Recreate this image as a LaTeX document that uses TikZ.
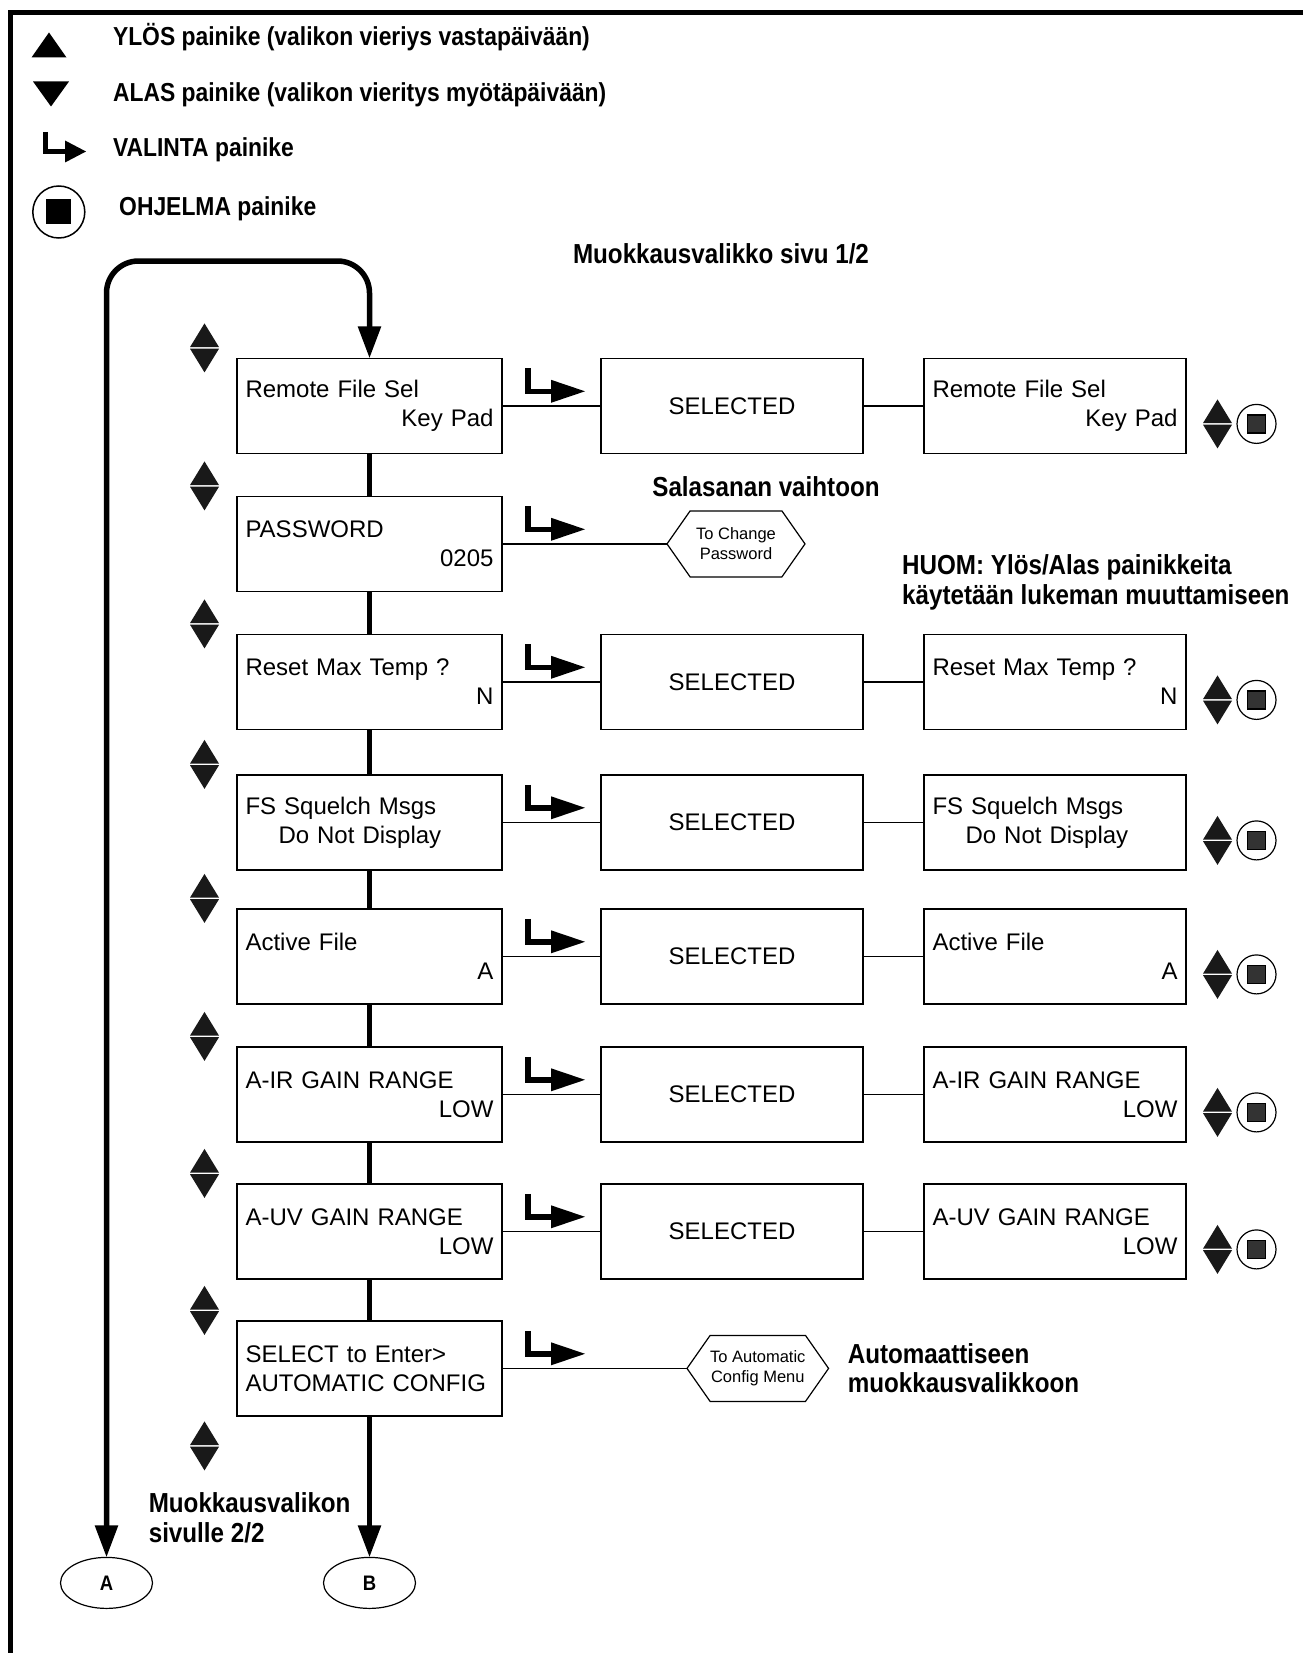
\documentclass[tikz,border=0pt]{standalone}
\usepackage{fontspec}
\setmainfont{Liberation Sans}
\newfontfamily\notefont[FakeStretch=0.88]{Liberation Sans}
\usetikzlibrary{arrows.meta,positioning,shapes.geometric,shapes.symbols,calc}
\newcommand{\boxfont}{\fontsize{24}{29}\selectfont}
\newcommand{\notesize}{\notefont\bfseries\fontsize{27.5}{29.5}\selectfont}
\newcommand{\legsize}{\notefont\bfseries\fontsize{26}{29}\selectfont}

\begin{document}
\begin{tikzpicture}[
  x=1pt, y=-1pt,
  >={Triangle[length=32pt,width=22pt]},
  menu/.style={draw, line width=1.5pt, outer sep=0pt, minimum width=265pt, minimum height=95pt,
    text width=248pt, inner xsep=8.5pt, align=left, font=\boxfont},
  result/.style={menu, minimum width=262pt, text width=245pt},
  sel/.style={draw, line width=1.5pt, outer sep=0pt, minimum width=262pt, minimum height=95pt, font=\boxfont},
  hexa/.style={draw, line width=1.2pt, outer sep=0pt, shape=signal, signal to=east and west,
    signal pointer angle=110, minimum width=138pt, minimum height=66pt, inner sep=0pt,
    align=center, font=\fontsize{16.5}{20}\selectfont},
  note/.style={inner sep=0pt, align=left, font=\notesize},
  legend/.style={inner sep=0pt, anchor=base west, font=\legsize},
  conn/.style={line width=5.5pt},
  flow/.style={line width=5.5pt, ->},
  link/.style={line width=1.3pt},
  term/.style={draw, ellipse, line width=1.2pt, outer sep=0pt, minimum width=92pt, minimum height=51pt,
    font=\notefont\bfseries\fontsize{21}{24}\selectfont},
  updown/.pic={
    \fill[black!90] (-14.5,-0.8) -- (14.5,-0.8) -- (0,-24.5) -- cycle;
    \fill[black!90] (-14.5,0.8) -- (14.5,0.8) -- (0,24.5) -- cycle;
  },
  progbtn/.pic={
    \draw[line width=1.2pt] (0,0) circle[radius=19.5pt];
    \draw[line width=1.2pt, fill=black!80] (-9,-9) rectangle (9,9);
  },
  selarrow/.pic={
    \draw[line width=5.5pt] (0,-23) -- (0,0) -- (24,0);
    \fill (23,-11.5) -- (57,0) -- (23,11.5) -- cycle;
  }
]
\useasboundingbox (0,0) rectangle (1303,1653);

% frame
\draw[line width=4.5pt] (10.5,1653) -- (10.5,12.5) -- (1303,12.5);

% legend
\fill (31.5,57.5) -- (66.5,57.5) -- (49,32.5) -- cycle;
\fill (33,81.5) -- (69,81.5) -- (51,106.5) -- cycle;
\draw[line width=5.5pt] (45.5,132) -- (45.5,151.5) -- (66,151.5);
\fill (65,140.5) -- (86,151.5) -- (65,162.5) -- cycle;
\draw[line width=1.5pt] (58.8,212) circle[radius=26pt];
\fill (46.3,199.5) rectangle (71.3,224.5);
\node[legend] (ylos) at (112.8,46) {YLÖS painike (valikon vieriys vastapäivään)};
\node[legend] (alas) at (112.8,102) {ALAS painike (valikon vieritys myötäpäivään)};
\node[legend] (valinta) at (112.8,157) {VALINTA painike};
\node[legend] (ohjelma) at (119,216) {OHJELMA painike};

\node[note, anchor=base] (title) at (721,263) {Muokkausvalikko sivu 1/2};

% main column
\node[menu] (r1) at (369.5,405.9) {Remote File Sel\\\hspace*{\fill}Key Pad};
\node[menu, below=43pt of r1] (r2) {PASSWORD\\\hspace*{\fill}0205};
\node[menu, below=43pt of r2] (r3) {Reset Max Temp ?\\\hspace*{\fill}N};
\node[menu, below=45.5pt of r3] (r4) {FS Squelch Msgs\\\hspace*{33pt}Do Not Display};
\node[menu, below=39pt of r4] (r5) {Active File\\\hspace*{\fill}A};
\node[menu, below=43pt of r5] (r6) {A-IR GAIN RANGE\\\hspace*{\fill}LOW};
\node[menu, below=42pt of r6] (r7) {A-UV GAIN RANGE\\\hspace*{\fill}LOW};
\node[menu, below=42pt of r7] (r8) {SELECT to Enter>\\AUTOMATIC CONFIG};

% selected / result
\foreach \i in {1,3,4,5,6,7}
  \node[sel, right=99pt of r\i] (m\i) {SELECTED};
\node[result, right=61pt of m1] (n1) {Remote File Sel\\\hspace*{\fill}Key Pad};
\node[result, right=61pt of m3] (n3) {Reset Max Temp ?\\\hspace*{\fill}N};
\node[result, right=61pt of m4] (n4) {FS Squelch Msgs\\\hspace*{33pt}Do Not Display};
\node[result, right=61pt of m5] (n5) {Active File\\\hspace*{\fill}A};
\node[result, right=61pt of m6] (n6) {A-IR GAIN RANGE\\\hspace*{\fill}LOW};
\node[result, right=61pt of m7] (n7) {A-UV GAIN RANGE\\\hspace*{\fill}LOW};

\node[hexa, right=165pt of r2] (chg) {To Change\\Password};
\node[hexa, right=185pt of r8] (auto) {To Automatic\\Config Menu};

\node[note, above=14pt of chg, xshift=30pt] (salasana) {Salasanan vaihtoon};
\node[note, anchor=west] (huom) at (902,582.5) {HUOM: Ylös/Alas painikkeita\\käytetään lukeman muuttamiseen};
\node[note, right=19pt of auto] (autonote) {Automaattiseen\\muokkausvalikkoon};

\node[term, below=141.5pt of r8] (B) {B};
\node[term, left=171pt of B] (A) {A};
\node[note, anchor=west] (sivu) at (148.6,1518) {Muokkausvalikon\\sivulle 2/2};

% connectors
\coordinate (top) at (0,261);
\draw[flow, <->, rounded corners=32pt] (A.north) -- (A.north |- top) -- (r1.north |- top) -- (r1.north);
\foreach \a/\b in {r1/r2,r2/r3,r3/r4,r4/r5,r5/r6,r6/r7,r7/r8}
  \draw[conn] (\a.south) -- (\b.north);
\draw[flow] (r8.south) -- (B.north);
\foreach \i in {1,3,4,5,6,7}
  \draw[link] (r\i.east) -- (m\i.west) (m\i.east) -- (n\i.west);
\draw[link] (r2.east) -- (chg.west);
\draw[link] (r8.east) -- (auto.west);

% buttons
\foreach \i in {1,...,8}
  \pic at ($(r\i.east)+(26,-14.6)$) {selarrow};
\foreach \i in {1,...,8}
  \pic at ($(r\i.north west)+(-32.5,-10.5)$) {updown};
\pic at ($(r8.south west)+(-32.5,30)$) {updown};
\foreach \i in {1,3,4,5,6,7} {
  \pic at ($(n\i.east)+(31.5,18)$) {updown};
  \pic at ($(n\i.east)+(70.5,18)$) {progbtn};
}

\end{tikzpicture}
\end{document}
